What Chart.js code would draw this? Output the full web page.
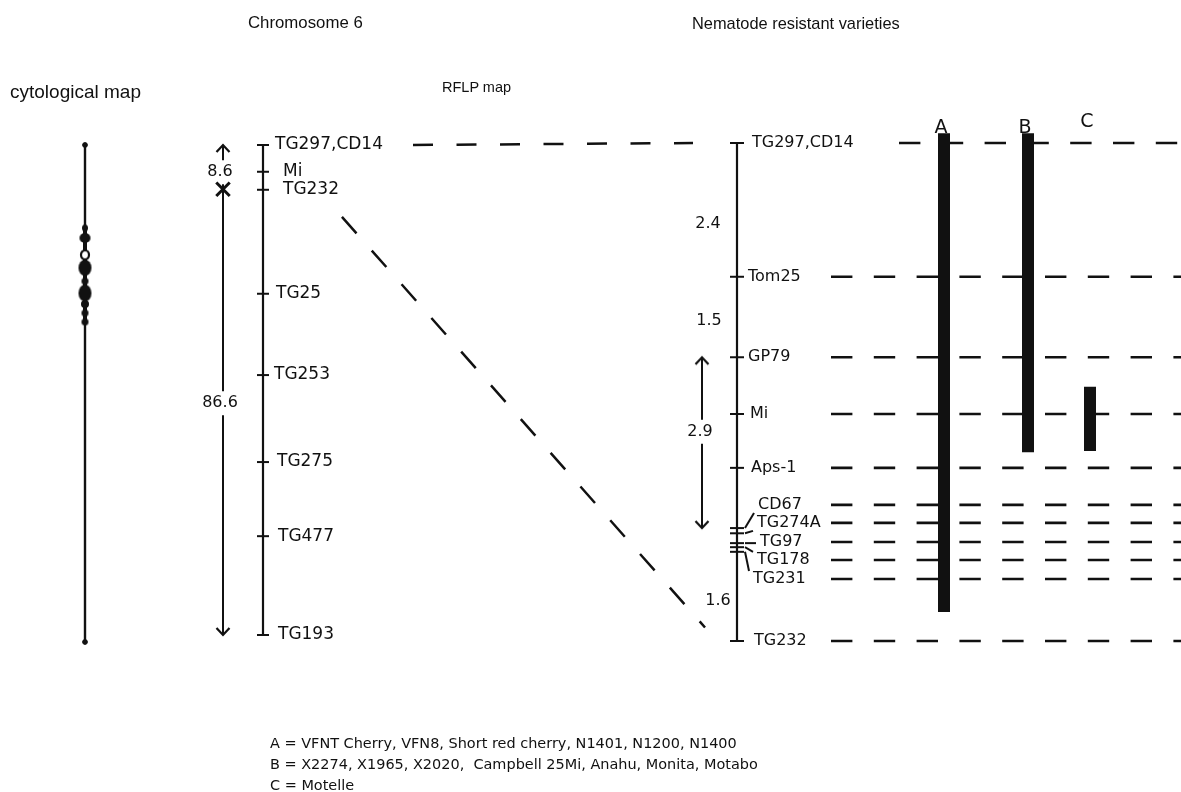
<!DOCTYPE html>
<html>
<head>
<meta charset="utf-8">
<script src="https://cdn.jsdelivr.net/npm/chart.js@4.4.1/dist/chart.umd.min.js"></script>
<style>
body { margin: 0; background: #fff; }
#wrap { position: relative; width: 1181px; height: 792px; overflow: hidden; }
#c { position: absolute; left: 0; top: 0; }
.t { position: absolute; white-space: nowrap; transform: translateY(-50%); color: #111; line-height: 1; }
.title { font-family: "Liberation Sans", Arial, sans-serif; }
.leg { font-family: "DejaVu Sans", sans-serif; font-size: 15px; }
</style>
</head>
<body>
<div id="wrap">
  <canvas id="c" width="1181" height="792"></canvas>
  <div class="t title" style="left:248px;top:23px;font-size:16.8px">Chromosome 6</div>
  <div class="t title" style="left:692px;top:23px;font-size:16.4px">Nematode resistant varieties</div>
  <div class="t title" style="left:10px;top:91px;font-size:19px">cytological map</div>
  <div class="t title" style="left:442px;top:87px;font-size:14.5px">RFLP map</div>
  <div class="t leg" data-w="467" style="left:270px;top:743px">A = VFNT Cherry, VFN8, Short red cherry, N1401, N1200, N1400</div>
  <div class="t leg" style="left:270px;top:764px">B = X2274, X1965, X2020,&nbsp; Campbell 25Mi, Anahu, Monita, Motabo</div>
  <div class="t leg" style="left:270px;top:785px">C = Motelle</div>
</div>
<script>
const INK = '#111';
const W = 1181, H = 792;

// ---- data ----
// cytological map, position along the chromosome in % of its length
const cytoBeadPos = [16.7, 18.7, 22.1, 24.7, 27.4, 29.8, 32.0, 33.8, 35.6];
const cytoBeadOpen = [false, false, true, false, false, false, false, false, false];

// overview RFLP map (cM from top)
const leftMarkers = ['TG297,CD14', 'Mi', 'TG232', 'TG25', 'TG253', 'TG275', 'TG477', 'TG193'];
const leftPos = [0, 5.2, 8.7, 28.9, 44.7, 61.6, 76.0, 95.2];
const leftDist = [8.6, 86.6];

// detailed map of the Mi region (cM from TG297)
const rightMarkers = ['TG297,CD14', 'Tom25', 'GP79', 'Mi', 'Aps-1', 'CD67', 'TG274A', 'TG97', 'TG178', 'TG231', 'TG232'];
const rightPos = [0, 2.31, 3.7, 4.68, 5.61, 6.65, 6.74, 6.91, 6.98, 7.06, 8.6];
const rightDistLabels = ['2.4', '1.5', '2.9', '1.6'];
const rightDistFrom = [0, 2.31, 3.7, 7.06];
const rightDistTo = [2.31, 3.7, 6.65, 8.6];
const rightDistArrow = [false, false, true, false];

// introgressed segments of the resistant varieties
const varieties = ['A', 'B', 'C'];
const varietyFrom = [-0.17, -0.17, 4.21];
const varietyTo = [8.1, 5.34, 5.32];

// ---- layout ----
const CYTO_X = 85, LARROW_X = 223, LMAP_X = 263, RARROW_X = 702, RMAP_X = 737;
const VAR_X = [944, 1028, 1090];
const LEFT_LABEL_X = [275, 283, 283, 276, 274, 277, 278, 278];
const RIGHT_LABEL_X = [752, 748, 748, 750, 751, 758, 757, 760, 757, 753, 754];
const RIGHT_LABEL_POS = { 5: 6.25, 6: 6.56, 7: 6.89, 8: 7.2, 9: 7.53 };
const ROW_START = [899, 831, 831, 831, 831, 831, 831, 831, 831, 831, 831];
const LEFT_NUDGE = [5, -9], RIGHT_NUDGE = [14, 4, -11, 4], RIGHT_DIST_X = [708, 709, 700, 718];
const LETTER_Y = [-0.26, -0.26, -0.36];
const BEAD_W = [6, 11, 8, 13, 7, 13, 8, 7, 7], BEAD_H = [7, 10, 9, 16, 7, 17, 8, 7, 7];

function axisFor(topPx, bottomPx, span) {
  const k = (bottomPx - topPx) / span;
  return { k, top: topPx, cfg: { type: 'linear', display: false, reverse: true, bounds: 'data', min: -topPx / k, max: (H - topPx) / k } };
}
const AC = axisFor(145, 642, 100);
const AL = axisFor(145, 635, 95.2);
const AR = axisFor(143, 641, 8.6);
const lToR = v => (AL.top + v * AL.k - AR.top) / AR.k;

const datasets = [];
function line(pts, axis, extra) {
  datasets.push(Object.assign({ data: pts, yAxisID: axis, showLine: true, pointRadius: 0, borderColor: INK, borderWidth: 2, clip: false, order: 3 }, extra));
}
function marks(pts, axis, extra) {
  datasets.push(Object.assign({ data: pts, yAxisID: axis, showLine: false, pointRadius: 6, pointStyle: 'line', borderColor: INK, backgroundColor: INK, pointBorderWidth: 2, clip: false, order: 2 }, extra));
}
function img(w, h, draw) {
  const c = document.createElement('canvas'); c.width = w; c.height = h;
  const g = c.getContext('2d'); g.strokeStyle = INK; g.fillStyle = INK; draw(g); return c;
}
const upHead = img(18, 18, g => { g.lineWidth = 2.2; g.beginPath(); g.moveTo(2.5, 16); g.lineTo(9, 9); g.lineTo(15.5, 16); g.stroke(); });
const downHead = img(18, 18, g => { g.lineWidth = 2.2; g.beginPath(); g.moveTo(2.5, 2); g.lineTo(9, 9); g.lineTo(15.5, 2); g.stroke(); });
const beadImgs = cytoBeadPos.map((p, i) => img(BEAD_W[i] + 4, BEAD_H[i] + 4, g => {
  g.beginPath(); g.ellipse((BEAD_W[i] + 4) / 2, (BEAD_H[i] + 4) / 2, BEAD_W[i] / 2, BEAD_H[i] / 2, 0, 0, Math.PI * 2);
  if (cytoBeadOpen[i]) { g.fillStyle = '#fff'; g.fill(); g.lineWidth = 2.2; g.stroke(); } else g.fill();
}));

// arrow shaft with a gap around its label
function shaft(x, from, to, axis, A, mid) {
  const gap = 12 / A.k;
  if (mid - gap - from > 0) line([{ x, y: from }, { x, y: mid - gap }], axis, { borderWidth: 2 });
  if (to - (mid + gap) > 0) line([{ x, y: mid + gap }, { x, y: to }], axis, { borderWidth: 2 });
}

// cytological map
line([{ x: CYTO_X, y: 0 }, { x: CYTO_X, y: 100 }], 'yC', { borderWidth: 2.4 });
line([{ x: CYTO_X, y: cytoBeadPos[0] }, { x: CYTO_X, y: cytoBeadPos[cytoBeadPos.length - 1] }], 'yC', { borderWidth: 4 });
marks([{ x: CYTO_X, y: 0 }, { x: CYTO_X, y: 100 }], 'yC', { pointStyle: 'circle', pointRadius: 2.4, pointBorderWidth: 1 });
marks(cytoBeadPos.map(p => ({ x: CYTO_X, y: p })), 'yC', { pointStyle: beadImgs, order: 1 });

// overview map
line([{ x: LMAP_X, y: leftPos[0] }, { x: LMAP_X, y: leftPos[leftPos.length - 1] }], 'yL', { borderWidth: 2.2 });
marks(leftPos.map(p => ({ x: LMAP_X, y: p })), 'yL');
const leftBounds = [0];
leftDist.forEach(d => leftBounds.push(leftBounds[leftBounds.length - 1] + d));
const leftMid = leftDist.map((d, i) => (leftBounds[i] + leftBounds[i + 1]) / 2 + LEFT_NUDGE[i] / AL.k);
leftDist.forEach((d, i) => shaft(LARROW_X, leftBounds[i], leftBounds[i + 1], 'yL', AL, leftMid[i]));
marks([{ x: LARROW_X, y: leftBounds[0] }], 'yL', { pointStyle: upHead });
marks([{ x: LARROW_X, y: leftBounds[leftBounds.length - 1] }], 'yL', { pointStyle: downHead });
marks([{ x: LARROW_X, y: leftBounds[1] }], 'yL', { pointStyle: 'crossRot', pointRadius: 9.5, pointBorderWidth: 3, order: 1 });

// detailed map
line([{ x: RMAP_X, y: rightPos[0] }, { x: RMAP_X, y: rightPos[rightPos.length - 1] }], 'yR', { borderWidth: 2.2 });
marks(rightPos.map(p => ({ x: RMAP_X, y: p })), 'yR', { pointRadius: 7 });
const rightLabelPos = rightPos.map((p, i) => RIGHT_LABEL_POS[i] !== undefined ? RIGHT_LABEL_POS[i] : p);
const clamp = 8 / AR.k;
rightPos.forEach((p, i) => {
  if (RIGHT_LABEL_POS[i] === undefined) return;
  const lp = rightLabelPos[i];
  const endY = lp + Math.max(-clamp, Math.min(clamp, p - lp));
  line([{ x: RMAP_X + 8, y: p }, { x: RIGHT_LABEL_X[i] - 4, y: endY }], 'yR', { borderWidth: 2 });
});
const rightMid = rightDistLabels.map((l, i) => (rightDistFrom[i] + rightDistTo[i]) / 2 + RIGHT_NUDGE[i] / AR.k);
rightDistLabels.forEach((l, i) => {
  if (!rightDistArrow[i]) return;
  shaft(RARROW_X, rightDistFrom[i], rightDistTo[i], 'yR', AR, rightMid[i]);
  marks([{ x: RARROW_X, y: rightDistFrom[i] }], 'yR', { pointStyle: upHead });
  marks([{ x: RARROW_X, y: rightDistTo[i] }], 'yR', { pointStyle: downHead });
});

// dashed rows across the varieties
rightLabelPos.forEach((p, i) => {
  line([{ x: ROW_START[i], y: p }, { x: W, y: p }], 'yR', { borderWidth: 2.6, borderDash: [21.4, 21.4] });
});
// connectors between the two maps
line([{ x: 413, y: lToR(leftPos[0]) }, { x: 693, y: rightPos[0] }], 'yR', { borderWidth: 2.5, borderDash: [20, 23.5] });
(function () {
  const x0 = 318, x1 = 717, y0 = lToR(leftPos[2]), y1 = rightPos[rightPos.length - 1];
  const at = t => ({ x: x0 + (x1 - x0) * t, y: y0 + (y1 - y0) * t });
  line([at(0.06), at(0.97)], 'yR', { borderWidth: 2.5, borderDash: [22, 23] });
})();

// variety bars
varieties.forEach((v, i) => {
  line([{ x: VAR_X[i], y: varietyFrom[i] }, { x: VAR_X[i], y: varietyTo[i] }], 'yR', { borderWidth: 12, borderCapStyle: 'butt', order: 0 });
});

const mapText = {
  id: 'mapText',
  afterDatasetsDraw(chart) {
    const { ctx } = chart;
    const sx = chart.scales.x, sl = chart.scales.yL, sr = chart.scales.yR;
    ctx.save();
    ctx.fillStyle = INK;
    ctx.textBaseline = 'middle';
    ctx.textAlign = 'left';
    ctx.font = '17px "DejaVu Sans", sans-serif';
    leftMarkers.forEach((m, i) => ctx.fillText(m, sx.getPixelForValue(LEFT_LABEL_X[i]), sl.getPixelForValue(leftPos[i])));
    ctx.font = '16px "DejaVu Sans", sans-serif';
    rightMarkers.forEach((m, i) => ctx.fillText(m, sx.getPixelForValue(RIGHT_LABEL_X[i]), sr.getPixelForValue(rightLabelPos[i])));
    ctx.textAlign = 'center';
    ctx.font = '16px "DejaVu Sans", sans-serif';
    leftDist.forEach((d, i) => ctx.fillText(String(d), sx.getPixelForValue(LARROW_X - 3), sl.getPixelForValue(leftMid[i])));
    rightDistLabels.forEach((l, i) => ctx.fillText(l, sx.getPixelForValue(RIGHT_DIST_X[i]), sr.getPixelForValue(rightMid[i])));
    ctx.font = '19px "DejaVu Sans", sans-serif';
    varieties.forEach((v, i) => ctx.fillText(v, sx.getPixelForValue(VAR_X[i] - 3), sr.getPixelForValue(LETTER_Y[i])));
    ctx.restore();
  }
};

new Chart(document.getElementById('c'), {
  type: 'scatter',
  data: { datasets },
  options: {
    responsive: false,
    devicePixelRatio: 1,
    animation: false,
    events: [],
    layout: { padding: 0, autoPadding: false },
    plugins: { legend: { display: false }, tooltip: { enabled: false } },
    scales: {
      x: { type: 'linear', display: false, bounds: 'data', min: 0, max: W },
      yC: AC.cfg,
      yL: AL.cfg,
      yR: AR.cfg
    }
  },
  plugins: [mapText]
});

// legend lines share one size, fitted on the first line
let legSize = null;
document.querySelectorAll('.leg').forEach(el => {
  if (!el.dataset.w) { el.style.fontSize = legSize; return; }
  const fs = parseFloat(getComputedStyle(el).fontSize);
  legSize = (fs * +el.dataset.w / el.getBoundingClientRect().width).toFixed(2) + 'px';
  el.style.fontSize = legSize;
});
</script>
</body>
</html>
